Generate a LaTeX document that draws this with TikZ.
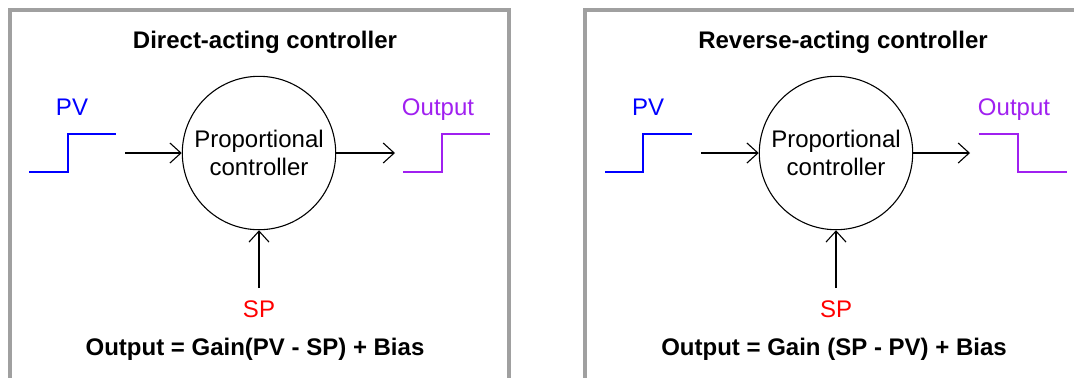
\documentclass[tikz,border=0pt]{standalone}
\usepackage{fontspec}
\setmainfont{Liberation Sans}
\usetikzlibrary{arrows.meta, positioning}
\definecolor{pvblue}{RGB}{0,0,255}
\definecolor{outpurple}{RGB}{160,32,240}
\definecolor{spred}{RGB}{255,0,0}
\definecolor{framegray}{RGB}{160,160,160}

\begin{document}
\begin{tikzpicture}[
  x=0.5pt, y=-0.5pt,
  frame/.style={draw=framegray, line width=2pt},
  ctrl/.style={circle, draw, line width=0.55pt, minimum size=76.7pt, inner sep=0pt,
               align=center, font=\fontsize{12}{14}\selectfont},
  title/.style={font=\fontsize{12}{14}\selectfont\bfseries, anchor=base},
  sig/.style={font=\fontsize{12}{14}\selectfont, anchor=base},
  wave/.style={line width=0.7pt},
  arrow/.style={-{Straight Barb[length=5.5pt,width=10pt]}, line width=0.55pt}
]
\useasboundingbox (0,0) rectangle (1074,377);
\clip (0,0) rectangle (1074,377);

% panel frames
\draw[frame] (10,390) |- (509,10) -- (509,390);
\draw[frame] (585,390) |- (1090,10);

% direct-acting
\node[title] (titleA) at (265,48) {Direct-acting controller};
\node[ctrl] (ctrlA) at (259,153) {Proportional\\controller};
\node[sig, text=pvblue] (pvA) at (72,115) {PV};
\node[sig, text=outpurple] (outA) at (438,115) {Output};
\node[sig, text=spred] (spA) at (259,317) {SP};
\node[title] (eqnA) at (255,355) {Output = Gain(PV - SP) + Bias};
\coordinate (inA) at (125,153);
\coordinate (endA) at (395,153);

\draw[wave, pvblue] (29,172) -| (68,134) -- (116,134);
\draw[wave, outpurple] (403,172) -| (442,134) -- (490,134);
\draw[arrow] (inA) -- (ctrlA);
\draw[arrow] (ctrlA) -- (endA);
\draw[arrow] ([yshift=2.5pt]spA.north) -- (ctrlA);

% reverse-acting
\node[title] (titleB) at (843,48) {Reverse-acting controller};
\node[ctrl] (ctrlB) at (836,153) {Proportional\\controller};
\node[sig, text=pvblue] (pvB) at (648,115) {PV};
\node[sig, text=outpurple] (outB) at (1014,115) {Output};
\node[sig, text=spred] (spB) at (836,317) {SP};
\node[title] (eqnB) at (834,355) {Output = Gain (SP - PV) + Bias};
\coordinate (inB) at (701,153);
\coordinate (endB) at (970,153);

\draw[wave, pvblue] (605,172) -| (643,134) -- (692,134);
\draw[wave, outpurple] (979,134) -| (1018,172) -- (1067,172);
\draw[arrow] (inB) -- (ctrlB);
\draw[arrow] (ctrlB) -- (endB);
\draw[arrow] ([yshift=2.5pt]spB.north) -- (ctrlB);
\end{tikzpicture}
\end{document}
